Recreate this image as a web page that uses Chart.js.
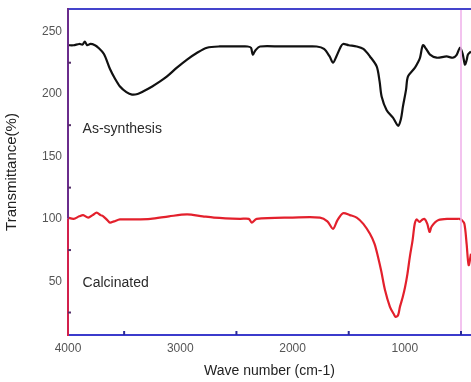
<!DOCTYPE html>
<html><head><meta charset="utf-8">
<script src="https://cdn.jsdelivr.net/npm/chart.js@4/dist/chart.umd.min.js"></script>
<style>html,body{margin:0;padding:0;background:#fff}#wrap{width:471px;height:382px}</style>
</head><body><div id="wrap"><canvas id="c" width="471" height="382"></canvas></div>
<script>
// ---- data ----
const waveAs = [4000,3950,3900,3870,3850,3830,3800,3760,3730,3680,3626,3580,3537,3480,3430,3380,3332,3250,3180,3118,3030,2940,2850,2762,2650,2468,2400,2370,2355,2330,2290,2100,1900,1785,1720,1670,1640,1610,1570,1551,1500,1429,1370,1311,1251,1225,1207,1162,1106,1059,1035,1017,990,972,910,885,865,839,810,776,717,628,572,540,509,485,465,450,438,411];
const transAs = [239,239,240,239.5,242,239,240,239,237,232,220,212,206,201.5,199.5,200,202,206,210,214,221,227.5,233,237,238,238,238,237,231.5,235,238,238,238,238,236,230,225,230,238,240,239,238,236,230,222,210,198,187,181,174.5,180,190,203,214,221,225,229,239,236,231.5,229,230,229,231,237,232,223.5,227,231.5,234];
const waveCal = [4000,3950,3900,3865,3820,3780,3745,3710,3686,3650,3626,3590,3537,3400,3265,3100,2940,2800,2700,2468,2390,2364,2320,2000,1756,1690,1640,1600,1551,1490,1429,1370,1311,1270,1239,1210,1177,1133,1100,1082,1060,1044,1020,999,977,955,931,912,895,870,850,825,800,780,761,700,600,539,515,494,470,450,432,411];
const transCal = [101,100,102,103,101,103,105,103,102,99,97,98,99.5,99.5,100,102,103.5,102,101,100,100,97,100,101,101,98,92,99,104.5,103,101,96,88,80,69.5,58,43,29.5,24,21.5,23,29.5,37,45,56,70,83,96,99.5,97.5,99,100,96,89.5,94,99,100,100,100,99,96,80,63,72];
const xTickLabels = [4000,3000,2000,1000];
const yTickLabels = [50,100,150,200,250];
const xMinorTicks = [3500,2500,1500,500];
const yMinorTicks = [25,75,125,175,225];
const seriesNames = ['As-synthesis','Calcinated'];
const seriesLabelPos = [{x:3870,y:171.5},{x:3870,y:48.5}];

const toPts = (xs, ys) => xs.map((x, i) => ({x, y: ys[i]}));
const FONT = '"Liberation Sans", Arial, sans-serif';

const framePlugin = {
  id: 'frame',
  afterDatasetsDraw(chart) {
    const {ctx, chartArea: a, scales: {x, y}} = chart;
    ctx.save();
    ctx.strokeStyle = 'rgba(240,180,235,0.8)';
    ctx.lineWidth = 2;
    const xp = x.getPixelForValue(500);
    ctx.beginPath(); ctx.moveTo(xp, a.top); ctx.lineTo(xp, a.bottom); ctx.stroke();
    ctx.strokeStyle = '#4444cc'; ctx.lineWidth = 2;
    ctx.beginPath(); ctx.moveTo(a.left, a.top); ctx.lineTo(a.right, a.top); ctx.stroke();
    ctx.strokeStyle = '#3b3bcc';
    ctx.beginPath(); ctx.moveTo(a.left, a.bottom); ctx.lineTo(a.right, a.bottom); ctx.stroke();
    const ymid = y.getPixelForValue(100);
    ctx.strokeStyle = '#6a2c8c';
    ctx.beginPath(); ctx.moveTo(a.left, a.top - 1); ctx.lineTo(a.left, ymid); ctx.stroke();
    ctx.strokeStyle = '#d2204c';
    ctx.beginPath(); ctx.moveTo(a.left, ymid); ctx.lineTo(a.left, a.bottom + 1); ctx.stroke();
    ctx.lineWidth = 2;
    ctx.strokeStyle = '#2a2a99';
    xMinorTicks.forEach(v => {
      const p = x.getPixelForValue(v);
      ctx.beginPath(); ctx.moveTo(p, a.bottom); ctx.lineTo(p, a.bottom - 4); ctx.stroke();
    });
    ctx.strokeStyle = '#55306a';
    yMinorTicks.forEach(v => {
      const p = y.getPixelForValue(v);
      ctx.beginPath(); ctx.moveTo(a.left, p); ctx.lineTo(a.left + 3, p); ctx.stroke();
    });
    ctx.fillStyle = '#2a2a2a';
    ctx.font = '14px ' + FONT;
    ctx.textBaseline = 'middle';
    ctx.textAlign = 'left';
    seriesNames.forEach((n, i) => {
      ctx.fillText(n, x.getPixelForValue(seriesLabelPos[i].x), y.getPixelForValue(seriesLabelPos[i].y));
    });
    ctx.restore();
  }
};

new Chart(document.getElementById('c'), {
  type: 'line',
  data: {
    datasets: [
      {label: seriesNames[0], data: toPts(waveAs, transAs), borderColor: '#111', borderWidth: 2.2, pointRadius: 0, tension: 0.3, fill: false},
      {label: seriesNames[1], data: toPts(waveCal, transCal), borderColor: '#e3202c', borderWidth: 2.2, pointRadius: 0, tension: 0.3, fill: false}
    ]
  },
  options: {
    responsive: false,
    animation: false,
    layout: {padding: {top: 9, right: 0, left: 0, bottom: 0}},
    plugins: {legend: {display: false}, tooltip: {enabled: false}},
    scales: {
      x: {
        type: 'linear', reverse: true, min: 411, max: 4000,
        afterBuildTicks: s => { s.ticks = xTickLabels.map(v => ({value: v})); },
        afterFit: s => { s.height = 47; s.paddingLeft = 0; s.paddingRight = 0; },
        grid: {display: false, drawTicks: false}, border: {display: false},
        ticks: {padding: 6, color: '#555', font: {family: FONT, size: 12}, maxRotation: 0, callback: v => String(v)},
        title: {display: true, text: 'Wave number (cm-1)', color: '#222', font: {family: FONT, size: 14}, padding: {top: 4, bottom: 2}}
      },
      y: {
        type: 'linear', min: 7, max: 268,
        afterBuildTicks: s => { s.ticks = yTickLabels.map(v => ({value: v})); },
        afterFit: s => { s.width = 68; s.paddingTop = 0; s.paddingBottom = 0; },
        grid: {display: false, drawTicks: false}, border: {display: false},
        ticks: {padding: 6, color: '#555', font: {family: FONT, size: 12}, callback: v => String(v)},
        title: {display: true, text: 'Transmittance(%)', color: '#222', font: {family: FONT, size: 15}, padding: {top: 3, bottom: 3}}
      }
    }
  },
  plugins: [framePlugin]
});
</script></body></html>
